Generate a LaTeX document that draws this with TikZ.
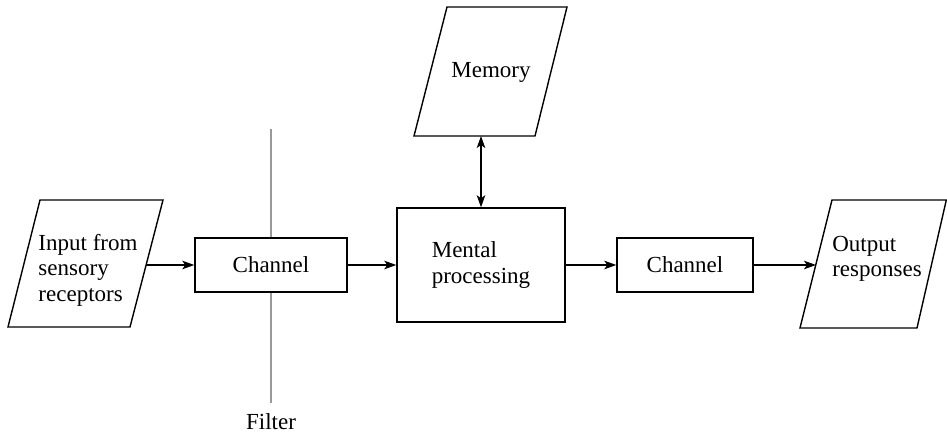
\documentclass[tikz,border=0pt]{standalone}
\usepackage{fontspec}
\setmainfont{Liberation Serif}
\usetikzlibrary{arrows.meta}
\begin{document}
\begin{tikzpicture}[x=1pt,y=-1pt,
  txt/.style={font=\fontsize{23}{25.5}\selectfont, align=left, inner sep=0pt},
  box/.style={draw, line width=1.4pt, minimum width=#1, minimum height=54pt, inner sep=0pt, font=\fontsize{23}{25.5}\selectfont, align=left},
  para/.style={draw, line width=1.4pt, line join=miter},
  conn/.style={line width=1.4pt, -{Stealth[length=12pt,width=8.5pt,inset=3pt]}},
  dconn/.style={line width=1.4pt, {Stealth[length=12pt,width=8.5pt,inset=3pt]}-{Stealth[length=12pt,width=8.5pt,inset=3pt]}},
  filt/.style={draw=black!40, line width=1.2pt}]
\useasboundingbox (0,0) rectangle (947,435);
% input parallelogram
\draw[para] (40,200) -- (163,200) -- (130,327) -- (8,327) -- cycle;
\node[txt] (input) at (88,270) {Input from\\sensory\\receptors};
\coordinate (inR) at (146,265);
% filter line
\coordinate (fTop) at (271,129);
\coordinate (fBot) at (271,403);
\draw[filt] (fTop) -- (fBot);
\node[txt] (filter) at (271,422) {Filter};
% channel 1
\node[box=152pt, fill=white] (ch1) at (271,265) {Channel};
% mental processing
\node[box=168pt, minimum height=114pt] (mp) at (481,265) {Mental\\processing};
% memory parallelogram
\draw[para] (447,7) -- (567,7) -- (535,136) -- (414,136) -- cycle;
\node[txt] (mem) at (491,72) {Memory};
\coordinate (memB) at (481,136);
% channel 2
\node[box=136pt] (ch2) at (685,265) {Channel};
% output parallelogram
\draw[para] (832,200) -- (946.3,200) -- (917,328) -- (800,328) -- cycle;
\node[txt] (out) at (877,259) {Output\\responses};
\coordinate (outL) at (816,265);
% connectors
\draw[conn] (inR) -- (ch1.west |- inR);
\draw[conn] (ch1.east) -- (mp.west);
\draw[conn] (mp.east) -- (ch2.west);
\draw[conn] (ch2.east) -- (outL);
\draw[dconn] (memB) -- (mp.north);
\end{tikzpicture}
\end{document}
